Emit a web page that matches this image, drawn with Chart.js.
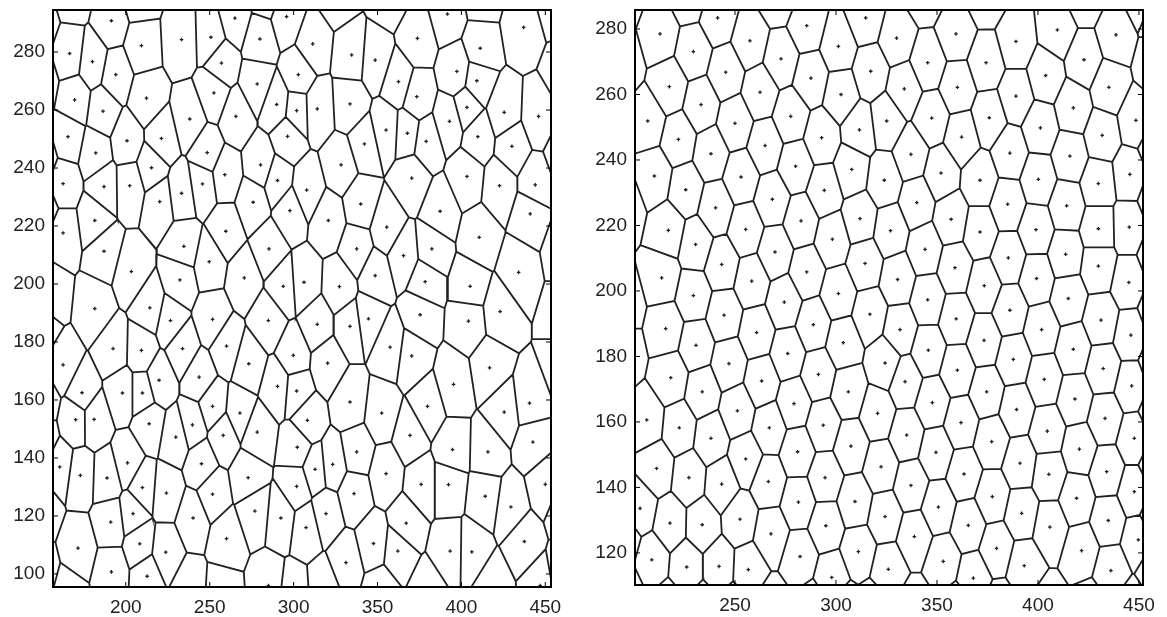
<!DOCTYPE html>
<html>
<head>
<meta charset="utf-8">
<script src="https://cdn.jsdelivr.net/npm/chart.js@4.4.1/dist/chart.umd.min.js"></script>
<style>
  body { margin: 0; background: #fff; }
  .panel { position: absolute; top: 0; height: 617px; }
  #left { left: 0; width: 580px; }
  #right { left: 580px; width: 587px; }
</style>
</head>
<body>
<div class="panel" id="left"><canvas id="leftChart"></canvas></div>
<div class="panel" id="right"><canvas id="rightChart"></canvas></div>
<script>
// generator points (data units); a few sit just outside the axes
const leftX = [
  191.4,166.5,180.1,209.3,233.2,250.7,265.0,279.9,295.8,257.0,194.0,302.8,169.5,212.3,186.4,252.5,278.3,238.1,265.6,289.9,
  301.8,165.5,200.7,221.2,182.1,248.5,296.4,280.3,162.6,187.0,202.3,215.3,259.0,245.7,233.2,290.4,220.2,275.9,297.8,181.5,
  162.6,259.6,234.6,187.0,285.3,249.7,203.3,232.2,270.6,293.8,
  311.4,334.6,348.6,373.8,391.7,411.2,437.1,397.3,409.2,362.5,373.4,314.1,333.6,403.3,425.5,446.0,392.9,355.1,367.8,379.0,
  342.2,409.8,430.1,328.3,370.4,403.3,422.7,444.0,307.8,340.0,387.3,441.0,320.7,355.5,410.6,337.6,382.4,365.5,306.2,327.3,
  348.6,378.4,405.2,434.1,
  181.5,214.3,226.6,251.7,284.9,192.4,209.3,233.8,260.0,162.6,273.3,299.8,219.8,243.7,290.4,173.9,198.0,209.9,251.7,268.0,
  301.8,170.1,181.1,213.9,239.7,278.3,229.8,258.0,302.2,160.6,172.9,188.8,201.0,245.1,272.9,301.8,209.9,224.2,251.7,204.3,
  191.0,240.1,276.9,292.4,171.5,208.3,223.8,260.0,191.4,212.7,
  314.1,333.6,344.6,375.4,404.2,423.1,357.5,370.4,320.3,416.8,395.3,333.6,352.5,379.8,425.5,440.6,308.2,369.4,442.6,337.6,
  394.7,415.8,312.8,323.3,355.1,376.0,392.3,414.2,450.0,336.0,429.5,319.3,367.1,307.4,347.6,362.1,393.3,406.2,437.5,331.2,
  149,149,150,151,155,150,150,150,150,150,
  168,208,283,326,357,412,455,
  461,461,461,461,461,461,460,
  165,238,257,285,300,318,352,380,418,447
];
const leftY = [
  290.8,279.5,276.7,282.2,284.3,285.1,291.7,284.5,292.2,276.2,272.2,272.2,263.5,264.1,259.6,265.9,269.0,256.9,257.8,261.9,
  259.8,250.8,249.4,250.2,245.2,245.3,250.9,241.1,234.6,233.6,233.9,240.1,237.7,234.5,231.3,235.7,228.4,228.2,225.3,221.9,
  217.6,218.2,213.0,211.3,212.1,207.7,204.3,201.4,202.1,199.2,
  282.8,279.0,277.2,284.7,293.1,281.3,288.5,273.3,270.1,269.8,264.6,260.4,262.1,260.9,259.2,257.8,256.1,253.1,252.0,249.2,
  248.3,250.8,247.5,241.1,236.5,237.1,233.9,234.2,232.4,227.6,225.1,224.2,221.9,219.6,216.1,212.1,212.1,209.8,200.6,199.1,
  202.9,200.8,199.2,204.0,
  191.5,191.8,187.4,187.8,187.4,177.7,177.1,177.7,178.6,172.1,172.5,175.4,166.8,167.9,164.7,162.5,162.4,162.4,157.8,155.5,
  163.1,153.2,153.3,151.8,151.4,148.9,147.2,147.8,143.7,136.9,134.0,133.1,138.3,138.0,133.2,130.2,129.8,127.9,127.5,120.8,
  117.9,119.3,121.7,119.3,108.9,110.4,107.5,112.2,100.7,99.2,
  186.1,185.4,188.0,189.4,187.2,190.5,178.2,175.2,172.7,171.1,165.4,159.3,155.5,157.8,155.8,158.9,153.0,147.8,145.5,142.1,
  142.9,142.1,136.1,137.8,134.6,130.9,130.8,126.8,130.9,127.7,123.1,120.8,117.5,116.0,110.5,107.9,107.9,107.6,111.2,103.9,
  290,270,243,226,196,185,160,146,122,100,
  300,299,300,300,300,300,297,
  273,245,212,190,172,123,100,
  93,95,93,96,93,95,94,93,95,96
];
const rightX = [
  241.4,285.5,314.7,212.9,257.4,301.2,229.4,272.8,317.2,245.4,287.6,217.5,262.4,302.5,206.8,233.2,277.6,325.1,250.0,311.6,
  222.0,264.9,292.9,238.1,280.0,307.8,323.9,210.1,253.0,225.6,294.2,268.5,240.4,282.7,311.9,217.0,255.3,298.2,230.5,269.8,
  327.0,243.4,285.5,314.4,213.7,258.3,229.4,301.2,
  330.0,359.4,389.1,409.6,438.6,345.4,374.3,422.8,333.8,360.1,403.8,435.1,347.4,375.9,389.1,417.5,448.5,362.2,401.2,431.8,
  337.1,386.1,415.8,445.5,352.0,371.3,400.2,429.9,340.0,385.0,414.2,357.0,371.3,399.0,429.9,445.2,344.1,385.3,413.7,358.9,
  429.9,330.5,373.4,399.3,445.0,345.4,
  274.4,244.6,288.8,316.8,215.7,260.7,230.7,303.6,276.1,324.3,247.0,218.2,291.3,263.2,233.8,306.1,279.2,251.2,320.6,206.3,
  293.7,222.4,267.0,238.1,307.4,281.0,255.3,211.2,322.3,227.2,294.6,266.5,243.4,309.4,281.4,203.0,252.5,324.3,217.8,233.8,
  295.0,267.8,311.1,282.2,208.8,226.1,242.1,256.6,297.9,325.9,
  386.1,415.0,431.2,331.7,401.8,446.0,373.3,345.7,417.5,387.8,360.1,432.3,403.1,334.2,446.4,374.6,347.7,418.3,389.4,433.2,
  361.9,404.6,335.0,377.1,447.7,420.5,349.5,391.1,434.0,363.4,405.4,337.1,377.4,419.1,447.7,350.7,391.9,434.8,365.5,405.9,
  338.8,379.5,421.6,449.7,353.1,393.2,436.1,368.0,359.5,
  194,194,195,195,195,195,196,
  227,271,344,374,423,452,
  458,458,458,458,458,458,458,458,458,458,458,
  217,234,249,268,289,304,318,339,360,381,405,426,446
];
const rightY = [
  283.4,281.0,283.4,278.5,276.4,274.7,273.1,270.9,267.1,266.8,265.0,262.4,260.7,260.0,251.9,256.9,253.3,251.9,251.2,249.2,
  246.3,244.4,246.8,241.9,238.1,237.1,233.8,235.1,234.8,230.9,230.7,228.0,225.4,221.4,222.1,218.5,218.8,215.8,214.2,211.9,
  218.4,208.1,205.8,208.4,204.0,203.0,198.6,199.2,
  277.2,278.5,276.2,279.7,278.2,269.7,269.7,270.6,261.7,262.2,265.8,262.2,252.8,252.9,259.5,255.9,252.1,247.0,249.8,247.5,
  241.7,242.1,241.2,235.6,236.0,233.8,234.1,232.8,227.0,226.5,226.0,221.9,218.0,218.7,219.0,219.5,212.7,210.1,211.2,207.1,
  207.6,203.5,201.6,203.8,202.6,197.3,
  196.6,192.6,189.7,192.9,188.5,187.3,183.4,184.2,180.9,178.0,177.8,173.5,174.5,172.5,169.2,169.2,165.6,163.4,162.6,160.6,
  159.0,158.2,158.2,155.0,152.6,150.9,148.7,145.8,146.3,143.0,143.0,141.8,141.0,135.7,135.5,133.6,130.3,131.1,129.1,128.6,
  128.3,125.8,120.4,118.9,117.9,115.7,115.9,114.9,112.5,115.0,
  194.1,197.7,191.1,188.2,188.2,186.5,184.9,181.9,182.2,179.1,175.8,176.3,173.0,172.3,171.0,169.2,165.9,167.0,163.8,161.1,
  159.8,157.2,156.0,154.0,155.0,151.7,150.7,147.4,144.8,144.1,144.0,140.6,137.2,136.7,138.7,134.0,132.1,129.9,128.4,127.9,
  125.0,121.4,120.7,124.0,117.4,116.1,114.6,112.3,191.5,
  290,270,226,196,181,124,108,
  290,290,291,290,290,289,
  285,270,244,228,211,194,178,163,147,131,116,
  103,103,103,103,103,103,103,103,103,103,103,103,103
];

const leftXTicks = [200, 250, 300, 350, 400, 450];
const leftYTicks = [100, 120, 140, 160, 180, 200, 220, 240, 260, 280];
const rightXTicks = [250, 300, 350, 400, 450];
const rightYTicks = [120, 140, 160, 180, 200, 220, 240, 260, 280];

// clip a convex polygon to the half plane nx*x + ny*y <= c
function clipPoly(poly, nx, ny, c) {
  const out = [];
  for (let k = 0; k < poly.length; k++) {
    const a = poly[k], b = poly[(k + 1) % poly.length];
    const da = nx * a[0] + ny * a[1] - c;
    const db = nx * b[0] + ny * b[1] - c;
    if (da <= 0) out.push(a);
    if ((da <= 0) !== (db <= 0)) {
      const t = da / (da - db);
      out.push([a[0] + t * (b[0] - a[0]), a[1] + t * (b[1] - a[1])]);
    }
  }
  return out;
}

// voronoi cells of the generator points, as one broken polyline
function voronoiCells(xs, ys, x0, x1, y0, y1) {
  const pts = [];
  for (let i = 0; i < xs.length; i++) {
    let poly = [[x0, y0], [x1, y0], [x1, y1], [x0, y1]];
    for (let j = 0; j < xs.length && poly.length; j++) {
      if (i === j) continue;
      const nx = xs[j] - xs[i], ny = ys[j] - ys[i];
      const c = nx * (xs[i] + xs[j]) / 2 + ny * (ys[i] + ys[j]) / 2;
      poly = clipPoly(poly, nx, ny, c);
    }
    if (!poly.length) continue;
    poly.forEach(p => pts.push({ x: p[0], y: p[1] }));
    pts.push({ x: poly[0][0], y: poly[0][1] });
    pts.push({ x: null, y: null });
  }
  return pts;
}

// box and inward tick marks on all four sides
const frame = {
  id: 'frame',
  afterDatasetsDraw(chart) {
    const { ctx, chartArea: a, scales: { x, y } } = chart;
    ctx.save();
    ctx.strokeStyle = '#000';
    ctx.lineWidth = 1;
    ctx.beginPath();
    x.ticks.forEach(t => {
      const px = x.getPixelForValue(t.value);
      ctx.moveTo(px, a.bottom); ctx.lineTo(px, a.bottom - 5);
      ctx.moveTo(px, a.top); ctx.lineTo(px, a.top + 5);
    });
    y.ticks.forEach(t => {
      const py = y.getPixelForValue(t.value);
      ctx.moveTo(a.left, py); ctx.lineTo(a.left + 5, py);
      ctx.moveTo(a.right, py); ctx.lineTo(a.right - 5, py);
    });
    ctx.stroke();
    ctx.lineWidth = 2;
    ctx.strokeRect(a.left, a.top, a.right - a.left, a.bottom - a.top);
    ctx.restore();
  }
};

function makeChart(id, xs, ys, xr, yr, xTicks, yTicks, yWidth, xHeight, padRight) {
  const cells = voronoiCells(xs, ys, xr[0] - 3, xr[1] + 3, yr[0] - 3, yr[1] + 3);
  const seeds = xs.map((v, i) => ({ x: v, y: ys[i] }));
  const tickFont = { family: 'Liberation Sans', size: 19 };
  return new Chart(document.getElementById(id), {
    type: 'scatter',
    data: {
      datasets: [
        {
          data: cells,
          showLine: true,
          spanGaps: false,
          borderColor: '#222',
          borderWidth: 1.8,
          pointRadius: 0,
          tension: 0
        },
        {
          data: seeds,
          pointStyle: 'cross',
          pointRadius: 1.8,
          borderWidth: 1.3,
          borderColor: '#222',
          backgroundColor: '#222'
        }
      ]
    },
    options: {
      responsive: true,
      maintainAspectRatio: false,
      animation: false,
      events: [],
      layout: { padding: { left: 0, right: padRight, top: 10, bottom: 0 } },
      plugins: { legend: { display: false }, tooltip: { enabled: false } },
      scales: {
        x: {
          type: 'linear',
          min: xr[0],
          max: xr[1],
          afterBuildTicks: s => { s.ticks = xTicks.map(v => ({ value: v })); },
          afterFit: s => { s.height = xHeight; s.paddingLeft = 0; s.paddingRight = 0; },
          grid: { display: false, drawTicks: false },
          border: { display: false },
          ticks: { color: '#222', font: tickFont, padding: 9 }
        },
        y: {
          type: 'linear',
          min: yr[0],
          max: yr[1],
          afterBuildTicks: s => { s.ticks = yTicks.map(v => ({ value: v })); },
          afterFit: s => { s.width = yWidth; s.paddingTop = 0; s.paddingBottom = 0; },
          grid: { display: false, drawTicks: false },
          border: { display: false },
          ticks: { color: '#222', font: tickFont, padding: 8 }
        }
      }
    },
    plugins: [frame]
  });
}

makeChart('leftChart', leftX, leftY, [156.6, 453.4], [95.5, 294.5], leftXTicks, leftYTicks, 53, 30, 29);
makeChart('rightChart', rightX, rightY, [200.5, 452], [110.2, 285.8], rightXTicks, rightYTicks, 55, 32, 24);
</script>
</body>
</html>
